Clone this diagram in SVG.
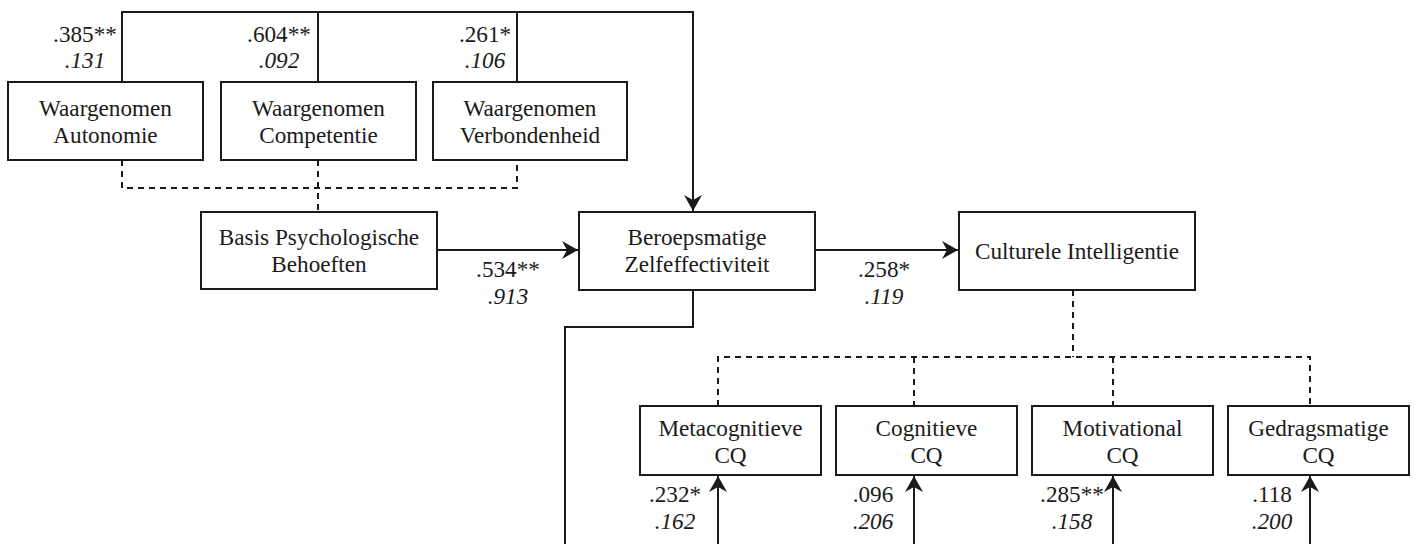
<svg xmlns="http://www.w3.org/2000/svg" width="1416" height="544" viewBox="0 0 1416 544">
<style>
.box{fill:#fff;stroke:#1a1a1a;stroke-width:2}
.t{font-family:"Liberation Serif","Times New Roman",serif;font-size:23.2px;fill:#1a1a1a;text-anchor:middle}
.i{font-style:italic}
.ln{fill:none;stroke:#1a1a1a;stroke-width:2}
.ds{fill:none;stroke:#1a1a1a;stroke-width:2;stroke-dasharray:6 5}
</style>
<defs>
<marker id="ah" markerUnits="userSpaceOnUse" markerWidth="20" markerHeight="20" viewBox="-17 -10 18 20" refX="0" refY="0" orient="auto">
<path d="M0,0 L-16,-9 L-11,0 L-16,9 Z" fill="#1a1a1a"/>
</marker>
</defs>
<rect width="1416" height="544" fill="#fff"/>
<g id="connectors">
<path class="ds" d="M122,160 V188 H517 V160"/>
<path class="ds" d="M318,160 V212"/>
<path class="ds" d="M1073,290 V357"/>
<path class="ds" d="M718,406 V357 H1310 V406"/>
<path class="ds" d="M914,357 V406"/>
<path class="ds" d="M1113,357 V406"/>
<path class="ln" d="M122,82 V12 H693 V211" marker-end="url(#ah)"/>
<path class="ln" d="M318,82 V12"/>
<path class="ln" d="M517,82 V12"/>
<path class="ln" d="M437,250 H578" marker-end="url(#ah)"/>
<path class="ln" d="M815,250 H958" marker-end="url(#ah)"/>
<path class="ln" d="M693,290 V327 H565 V544"/>
<path class="ln" d="M718,544 V476" marker-end="url(#ah)"/>
<path class="ln" d="M914,544 V476" marker-end="url(#ah)"/>
<path class="ln" d="M1113,544 V476" marker-end="url(#ah)"/>
<path class="ln" d="M1310,544 V476" marker-end="url(#ah)"/>
<text class="t" x="85" y="42">.385**</text>
<text class="t i" x="85" y="68">.131</text>
<text class="t" x="279" y="42">.604**</text>
<text class="t i" x="279" y="68">.092</text>
<text class="t" x="485" y="42">.261*</text>
<text class="t i" x="485" y="68">.106</text>
<text class="t" x="508" y="277">.534**</text>
<text class="t i" x="508" y="304">.913</text>
<text class="t" x="884" y="277">.258*</text>
<text class="t i" x="884" y="304">.119</text>
<text class="t" x="675" y="502">.232*</text>
<text class="t i" x="675" y="529">.162</text>
<text class="t" x="873" y="502">.096</text>
<text class="t i" x="873" y="529">.206</text>
<text class="t" x="1072" y="502">.285**</text>
<text class="t i" x="1072" y="529">.158</text>
<text class="t" x="1272" y="502">.118</text>
<text class="t i" x="1272" y="529">.200</text>
</g>
<g id="autonomie">
<rect class="box" x="8" y="82" width="195" height="78"/>
<text class="t" x="105.5" y="116">Waargenomen</text>
<text class="t" x="105.5" y="143">Autonomie</text>
</g>
<g id="competentie">
<rect class="box" x="221" y="82" width="195" height="78"/>
<text class="t" x="318.5" y="116">Waargenomen</text>
<text class="t" x="318.5" y="143">Competentie</text>
</g>
<g id="verbondenheid">
<rect class="box" x="433" y="82" width="194" height="78"/>
<text class="t" x="530" y="116">Waargenomen</text>
<text class="t" x="530" y="143">Verbondenheid</text>
</g>
<g id="basis">
<rect class="box" x="201" y="212" width="236" height="77"/>
<text class="t" x="319" y="245">Basis Psychologische</text>
<text class="t" x="319" y="272">Behoeften</text>
</g>
<g id="beroepsmatige">
<rect class="box" x="579" y="212" width="236" height="78"/>
<text class="t" x="697" y="245">Beroepsmatige</text>
<text class="t" x="697" y="272">Zelfeffectiviteit</text>
</g>
<g id="culturele">
<rect class="box" x="959" y="212" width="236" height="78"/>
<text class="t" x="1077" y="259">Culturele Intelligentie</text>
</g>
<g id="metacognitieve">
<rect class="box" x="640" y="406" width="181" height="69"/>
<text class="t" x="730.5" y="436">Metacognitieve</text>
<text class="t" x="730.5" y="463">CQ</text>
</g>
<g id="cognitieve">
<rect class="box" x="836" y="406" width="181" height="69"/>
<text class="t" x="926.5" y="436">Cognitieve</text>
<text class="t" x="926.5" y="463">CQ</text>
</g>
<g id="motivational">
<rect class="box" x="1032" y="406" width="181" height="69"/>
<text class="t" x="1122.5" y="436">Motivational</text>
<text class="t" x="1122.5" y="463">CQ</text>
</g>
<g id="gedragsmatige">
<rect class="box" x="1228" y="406" width="181" height="69"/>
<text class="t" x="1318.5" y="436">Gedragsmatige</text>
<text class="t" x="1318.5" y="463">CQ</text>
</g>
</svg>
